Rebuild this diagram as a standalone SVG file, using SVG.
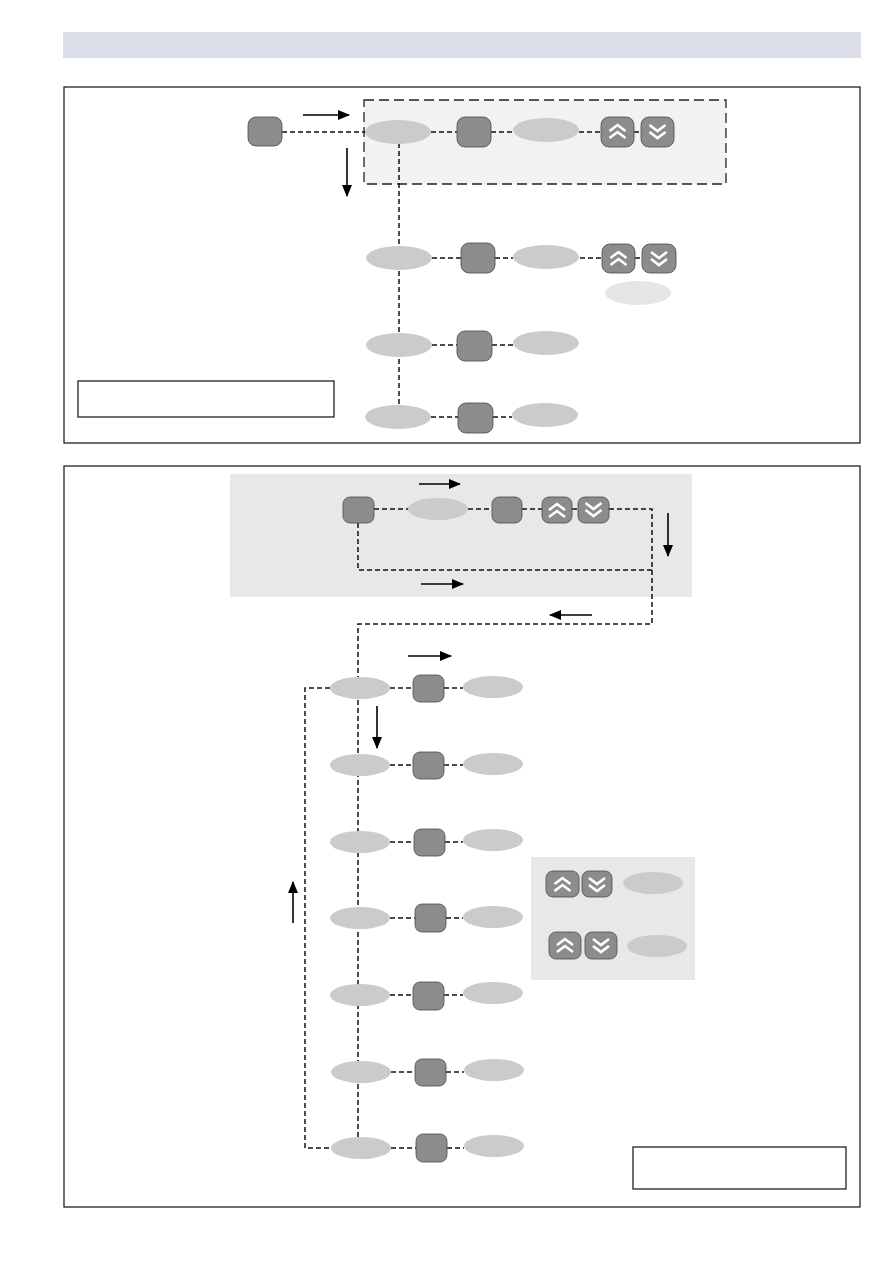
<svg xmlns="http://www.w3.org/2000/svg" xmlns:xlink="http://www.w3.org/1999/xlink" width="893" height="1263" viewBox="0 0 893 1263">
<style>
.panel{fill:#fff;stroke:#222;stroke-width:1.3}
.btn{fill:#8c8c8c;stroke:#4a4a4a;stroke-width:0.8}
.ell{fill:#cbcbcb}
.ell2{fill:#e6e6e6}
.dash{fill:none;stroke:#111;stroke-width:1.5;stroke-dasharray:5,3}
.arr{fill:none;stroke:#000;stroke-width:1.6;marker-end:url(#ah)}
.chev{fill:none;stroke:#fff;stroke-width:2.6;stroke-linejoin:miter}
.legend{fill:#fff;stroke:#222;stroke-width:1.3}
</style>
<defs>
<marker id="ah" markerWidth="12" markerHeight="10" refX="11" refY="5" orient="auto" markerUnits="userSpaceOnUse">
<path d="M0,0 L12,5 L0,10 Z" fill="#000"/>
</marker>
<path id="up" class="chev" d="M-8,0 L0,-6 L8,0 M-8,7 L0,1 L8,7"/>
<path id="dn" class="chev" d="M-8,-7 L0,-1 L8,-7 M-8,0 L0,6 L8,0"/>
</defs>

<rect x="63" y="32" width="798" height="26" fill="#dcdeea"/>

<rect id="panel1" class="panel" x="64" y="87" width="796" height="356"/>
<rect id="panel2" class="panel" x="64" y="466" width="796" height="741"/>

<rect id="group1" x="364" y="100" width="362" height="84" fill="#f2f2f2" stroke="#222" stroke-width="1.3" stroke-dasharray="10,5"/>
<rect id="group2" x="230" y="474" width="462" height="123" fill="#e8e8e8"/>
<rect id="group3" x="531" y="857" width="164" height="123" fill="#e8e8e8"/>

<g id="connectors">
<path class="dash" d="M282,132 H366"/>
<path class="dash" d="M399,143 V406"/>
<path class="dash" d="M431,132 H457 M491,132 H513 M579,132 H601 M634,132 H641"/>
<path class="dash" d="M432,258 H461 M495,258 H513 M580,258 H602 M635,258 H642"/>
<path class="dash" d="M432,345 H457 M492,345 H513"/>
<path class="dash" d="M431,417 H458 M493,417 H512"/>
<path class="dash" d="M374,509 H409 M468,509 H492 M522,509 H542 M572,509 H578"/>
<path class="dash" d="M609,509 H652 V624 H358 V1137"/>
<path class="dash" d="M358,523 V570 H652"/>
<path class="dash" d="M330,688 H305 V1148 H331"/>
<path class="dash" d="M390,688 H413 M444,688 H463"/>
<path class="dash" d="M390,765 H413 M444,765 H463"/>
<path class="dash" d="M390,842 H414 M445,842 H463"/>
<path class="dash" d="M390,918 H415 M446,918 H463"/>
<path class="dash" d="M390,995 H413 M444,995 H463"/>
<path class="dash" d="M391,1072 H415 M446,1072 H464"/>
<path class="dash" d="M391,1148 H416 M447,1148 H464"/>
<line class="arr" x1="303" y1="115" x2="349" y2="115"/>
<line class="arr" x1="347" y1="148" x2="347" y2="196"/>
<line class="arr" x1="419" y1="484" x2="460" y2="484"/>
<line class="arr" x1="668" y1="513" x2="668" y2="556"/>
<line class="arr" x1="421" y1="584" x2="463" y2="584"/>
<line class="arr" x1="592" y1="615" x2="550" y2="615"/>
<line class="arr" x1="408" y1="656" x2="451" y2="656"/>
<line class="arr" x1="377" y1="706" x2="377" y2="748"/>
<line class="arr" x1="293" y1="923" x2="293" y2="882"/>
</g>

<g id="p1-btn0"><rect class="btn" x="248" y="117" width="34" height="29" rx="8"/></g>
<g id="p1-r1-e1"><ellipse class="ell" cx="398" cy="132" rx="33" ry="12"/></g>
<g id="p1-r1-b"><rect class="btn" x="457" y="117" width="34" height="30" rx="8"/></g>
<g id="p1-r1-e2"><ellipse class="ell" cx="546" cy="130" rx="33" ry="12"/></g>
<g id="p1-r1-up"><rect class="btn" x="601" y="117" width="33" height="30" rx="8"/><use xlink:href="#up" x="617.5" y="131"/></g>
<g id="p1-r1-dn"><rect class="btn" x="641" y="117" width="33" height="30" rx="8"/><use xlink:href="#dn" x="657.5" y="132"/></g>

<g id="p1-r2-e1"><ellipse class="ell" cx="399" cy="258" rx="33" ry="12"/></g>
<g id="p1-r2-b"><rect class="btn" x="461" y="243" width="34" height="30" rx="8"/></g>
<g id="p1-r2-e2"><ellipse class="ell" cx="546" cy="257" rx="33" ry="12"/></g>
<g id="p1-r2-up"><rect class="btn" x="602" y="244" width="33" height="29" rx="8"/><use xlink:href="#up" x="618.5" y="258"/></g>
<g id="p1-r2-dn"><rect class="btn" x="642" y="244" width="34" height="29" rx="8"/><use xlink:href="#dn" x="659" y="259"/></g>
<g id="p1-r2-e3"><ellipse class="ell2" cx="638" cy="293" rx="33" ry="12"/></g>

<g id="p1-r3-e1"><ellipse class="ell" cx="399" cy="345" rx="33" ry="12"/></g>
<g id="p1-r3-b"><rect class="btn" x="457" y="331" width="35" height="30" rx="8"/></g>
<g id="p1-r3-e2"><ellipse class="ell" cx="546" cy="343" rx="33" ry="12"/></g>

<g id="p1-r4-e1"><ellipse class="ell" cx="398" cy="417" rx="33" ry="12"/></g>
<g id="p1-r4-b"><rect class="btn" x="458" y="403" width="35" height="30" rx="8"/></g>
<g id="p1-r4-e2"><ellipse class="ell" cx="545" cy="415" rx="33" ry="12"/></g>

<g id="p1-legend"><rect class="legend" x="78" y="381" width="256" height="36"/></g>

<g id="p2-top-b1"><rect class="btn" x="343" y="497" width="31" height="26" rx="7"/></g>
<g id="p2-top-e"><ellipse class="ell" cx="438" cy="509" rx="30" ry="11"/></g>
<g id="p2-top-b2"><rect class="btn" x="492" y="497" width="30" height="26" rx="7"/></g>
<g id="p2-top-up"><rect class="btn" x="542" y="497" width="30" height="26" rx="7"/><use xlink:href="#up" x="557" y="510"/></g>
<g id="p2-top-dn"><rect class="btn" x="578" y="497" width="31" height="26" rx="7"/><use xlink:href="#dn" x="593.5" y="510"/></g>

<g id="p2-r1-e1"><ellipse class="ell" cx="360" cy="688" rx="30" ry="11"/></g>
<g id="p2-r1-b"><rect class="btn" x="413" y="675" width="31" height="27" rx="7"/></g>
<g id="p2-r1-e2"><ellipse class="ell" cx="493" cy="687" rx="30" ry="11"/></g>

<g id="p2-r2-e1"><ellipse class="ell" cx="360" cy="765" rx="30" ry="11"/></g>
<g id="p2-r2-b"><rect class="btn" x="413" y="752" width="31" height="27" rx="7"/></g>
<g id="p2-r2-e2"><ellipse class="ell" cx="493" cy="764" rx="30" ry="11"/></g>

<g id="p2-r3-e1"><ellipse class="ell" cx="360" cy="842" rx="30" ry="11"/></g>
<g id="p2-r3-b"><rect class="btn" x="414" y="829" width="31" height="27" rx="7"/></g>
<g id="p2-r3-e2"><ellipse class="ell" cx="493" cy="840" rx="30" ry="11"/></g>

<g id="p2-r4-e1"><ellipse class="ell" cx="360" cy="918" rx="30" ry="11"/></g>
<g id="p2-r4-b"><rect class="btn" x="415" y="904" width="31" height="28" rx="7"/></g>
<g id="p2-r4-e2"><ellipse class="ell" cx="493" cy="917" rx="30" ry="11"/></g>

<g id="p2-r5-e1"><ellipse class="ell" cx="360" cy="995" rx="30" ry="11"/></g>
<g id="p2-r5-b"><rect class="btn" x="413" y="982" width="31" height="28" rx="7"/></g>
<g id="p2-r5-e2"><ellipse class="ell" cx="493" cy="993" rx="30" ry="11"/></g>

<g id="p2-r6-e1"><ellipse class="ell" cx="361" cy="1072" rx="30" ry="11"/></g>
<g id="p2-r6-b"><rect class="btn" x="415" y="1059" width="31" height="27" rx="7"/></g>
<g id="p2-r6-e2"><ellipse class="ell" cx="494" cy="1070" rx="30" ry="11"/></g>

<g id="p2-r7-e1"><ellipse class="ell" cx="361" cy="1148" rx="30" ry="11"/></g>
<g id="p2-r7-b"><rect class="btn" x="416" y="1134" width="31" height="28" rx="7"/></g>
<g id="p2-r7-e2"><ellipse class="ell" cx="494" cy="1146" rx="30" ry="11"/></g>

<g id="p2-side-up1"><rect class="btn" x="546" y="871" width="33" height="26" rx="7"/><use xlink:href="#up" x="562.5" y="884"/></g>
<g id="p2-side-dn1"><rect class="btn" x="582" y="871" width="30" height="26" rx="7"/><use xlink:href="#dn" x="597" y="885"/></g>
<g id="p2-side-e1"><ellipse class="ell" cx="653" cy="883" rx="30" ry="11"/></g>
<g id="p2-side-up2"><rect class="btn" x="549" y="932" width="32" height="27" rx="7"/><use xlink:href="#up" x="565" y="945"/></g>
<g id="p2-side-dn2"><rect class="btn" x="585" y="932" width="32" height="27" rx="7"/><use xlink:href="#dn" x="601" y="946"/></g>
<g id="p2-side-e2"><ellipse class="ell" cx="657" cy="946" rx="30" ry="11"/></g>

<g id="p2-legend"><rect class="legend" x="633" y="1147" width="213" height="42"/></g>
</svg>
